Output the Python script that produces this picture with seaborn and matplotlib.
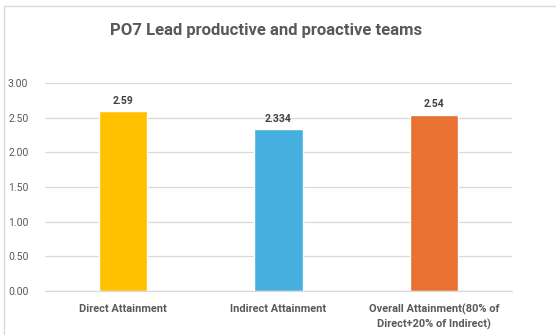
import matplotlib
matplotlib.use("Agg")
import matplotlib.pyplot as plt
import seaborn as sns
import pandas as pd
from matplotlib.patches import Rectangle

categories = ["Direct Attainment", "Indirect Attainment",
              "Overall Attainment(80% of\nDirect+20% of Indirect)"]
values = [2.59, 2.334, 2.54]
value_labels = ["2.59", "2.334", "2.54"]
colors = ["#FFC000", "#47AFE0", "#E97132"]
yticks = [0.0, 0.5, 1.0, 1.5, 2.0, 2.5, 3.0]
title = "PO7 Lead productive and proactive teams"

sns.set_theme(style="white")
plt.rcParams["font.family"] = ["Liberation Sans Narrow", "Roboto", "DejaVu Sans"]

df = pd.DataFrame({"category": categories, "value": values})

W, H = 556, 335
fig = plt.figure(figsize=(W / 100, H / 100), dpi=100)
ax = fig.add_axes([45 / W, 1 - 291 / H, 467 / W, 208 / H])

sns.barplot(data=df, x="category", y="value", hue="category", palette=colors,
            width=0.31, legend=False, ax=ax, saturation=1)

ax.set_ylim(0, 3.0)
ax.set_xlim(-0.5, 2.5)
ax.set_yticks(yticks)
ax.set_yticklabels([f"{t:.2f}" for t in yticks], color="#595959", fontsize=7.5,
                   family=["Roboto", "DejaVu Sans"])
ax.set_xticks(range(len(categories)))
ax.set_xticklabels(categories, color="#595959", fontsize=7.9, fontweight="bold",
                   linespacing=1.45)
ax.tick_params(axis="x", length=0, pad=9)
ax.tick_params(axis="y", length=0, pad=12)
ax.set_xlabel("")
ax.set_ylabel("")
ax.grid(axis="y", color="#D9D9D9", linewidth=0.9)
ax.set_axisbelow(True)
for side in ["top", "right", "left"]:
    ax.spines[side].set_visible(False)
ax.spines["bottom"].set_color("#D9D9D9")
ax.spines["bottom"].set_linewidth(0.9)

for i, (v, lab) in enumerate(zip(values, value_labels)):
    ax.annotate(lab, (i, v), xytext=(0, 4), textcoords="offset points",
                ha="center", va="bottom", fontsize=7.5, fontweight="bold",
                color="#404040")

fig.text(266 / W, 1 - 30 / H, title, ha="center", va="center",
         fontsize=12, fontweight="bold", color="#595959")

fig.patches.append(Rectangle((4 / W, -0.1), 1.2, 1 - 6 / H + 0.1,
                             transform=fig.transFigure, fill=False,
                             edgecolor="#D9D9D9", linewidth=1))

fig.savefig("out.png", dpi=100, facecolor="white")
